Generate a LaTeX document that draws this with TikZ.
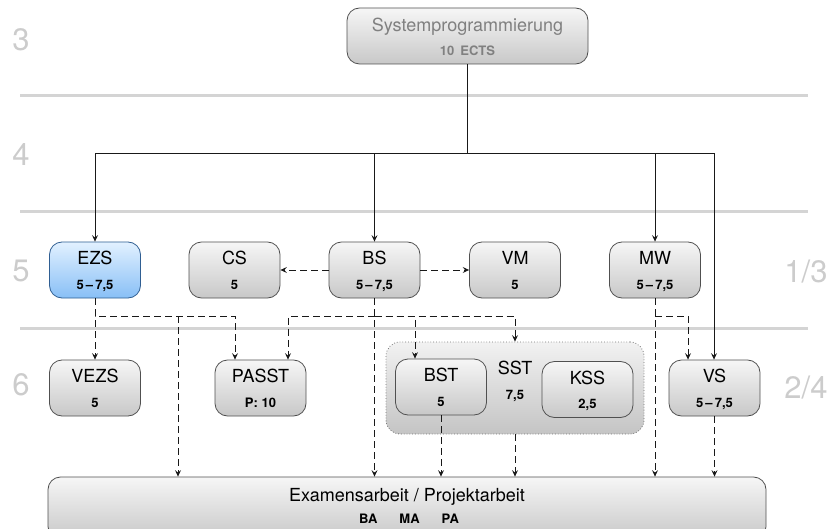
\documentclass[tikz,border=0pt]{standalone}
\usepackage{fontspec}
\setmainfont{TeX Gyre Heros}
\usetikzlibrary{arrows.meta}

\definecolor{boxtop}{HTML}{F6F6F6}
\definecolor{boxbot}{HTML}{C8C8C8}
\definecolor{boxline}{HTML}{505050}
\definecolor{ezstop}{HTML}{E2F1FF}
\definecolor{ezsbot}{HTML}{88BFF6}
\definecolor{ezsline}{HTML}{2F5E92}
\definecolor{grptop}{HTML}{F2F2F2}
\definecolor{grpbot}{HTML}{C4C4C4}

\begin{document}
\begin{tikzpicture}[x=1pt,y=-1pt,
  mod/.style={draw=boxline,line width=0.8pt,rounded corners=12.5pt,top color=boxtop,bottom color=boxbot,
    minimum width=91pt,minimum height=56pt,inner sep=0pt},
  ezsmod/.style={mod,draw=ezsline,top color=ezstop,bottom color=ezsbot},
  grp/.style={draw=black!55,line width=0.8pt,dotted,rounded corners=14pt,top color=grptop,bottom color=grpbot,
    minimum width=258pt,minimum height=92pt,inner sep=0pt},
  title/.style={anchor=base,inner sep=0pt,font=\fontsize{18}{18}\selectfont},
  ects/.style={anchor=base,inner sep=0pt,font=\fontsize{13}{13}\selectfont\bfseries},
  level/.style={text=black!20,font=\fontsize{31}{31}\selectfont},
  sep/.style={line width=3pt,black!17},
  tline/.style={line width=0.8pt,black!90,-{Stealth[length=6.5pt,width=6pt,inset=2.5pt]}},
  dline/.style={tline,dash pattern=on 7pt off 4pt}]
\useasboundingbox (0,0) rectangle (832,529);

% semester lines
\foreach \y in {96,212,328}
\draw[sep] (20,\y) -- (808,\y);
\foreach \y/\t in {40/3,155/4,271/5,385/6}
\node[level] (sem\t) at (21,\y) {\t};
\node[level] (ws) at (806,272) {1/3};
\node[level] (ss) at (806,388) {2/4};

% top module
\node[mod,minimum width=241pt] (sp) at (467.5,36) {};
\node[title,text=black!50] (sptitle) at ([yshift=4.5pt]sp.center) {Systemprogrammierung};
\node[ects,text=black!50] (spects) at ([yshift=-19.5pt]sp.center) {10\hspace{6pt}ECTS};

% SST group
\node[grp] (sst) at (515,388) {};
\node[title] (ssttitle) at ([yshift=13.5pt]sst.center) {SST};
\node[ects] (sstects) at ([yshift=-11.5pt]sst.center) {7,5};

% modules
\node[ezsmod] (ezs) at (95,270) {};
\foreach \n/\x/\y in {cs/234.5/270,bs/374.5/270,vm/515/270,mw/655/270,
  vezs/95/388,passt/260.5/388,bst/441/387,kss/587.5/389.5,vs/714.5/388}
\node[mod] (\n) at (\x,\y) {};
\foreach \n/\t/\e in {ezs/EZS/{5\,--\,7,5},cs/CS/5,bs/BS/{5\,--\,7,5},vm/VM/5,mw/MW/{5\,--\,7,5},
  vezs/VEZS/5,passt/PASST/{P: 10},bst/BST/5,kss/KSS/{2,5},vs/VS/{5\,--\,7,5}}{
\node[title] (\n title) at ([yshift=5.5pt]\n.center) {\t};
\node[ects] (\n ects) at ([yshift=-19pt]\n.center) {\e};
}

% thesis
\node[mod,minimum width=718pt,minimum height=62pt] (exam) at (407,508) {};
\node[title] (examtitle) at (407,501.5) {Examensarbeit / Projektarbeit};
\node[ects] (examects) at (409,523.5) {BA\hspace{22pt}MA\hspace{22pt}PA};

% tree
\coordinate (fork) at (467.5,153);
\draw[tline,-] (sp) -- (fork);
\foreach \n in {ezs,bs,mw}
\draw[tline] (fork) -| (\n);
\draw[tline] (fork) -| ([xshift=-0.5pt]vs.north);

% dashed links
\draw[dline] (bs) -- (cs);
\draw[dline] (bs) -- (vm);

\draw[dline] (ezs) -- (vezs);
\draw[dline] (ezs.south) -- ++(0,18) -| ([xshift=-25.5pt]passt.north);
\coordinate (ezsbar) at (178,316);
\draw[dline] (ezsbar) -- (ezsbar |- exam.north);

\draw[dline] (bs.south) -- (bs.south |- exam.north);
\draw[dline] (bs.south) ++(0,18) -| ([xshift=27.5pt]passt.north);
\draw[dline] (bs.south) ++(0,18) -| ([xshift=-26pt]bst.north);
\draw[dline] (bs.south) ++(0,18) -| (sst.north);

\draw[dline] (mw.south) -- (mw.south |- exam.north);
\draw[dline] (mw.south) ++(0,18) -| ([xshift=-26.5pt]vs.north);

\draw[dline] (bst) -- (bst |- exam.north);
\draw[dline] (sst) -- (sst |- exam.north);
\draw[dline] (vs) -- (vs |- exam.north);
\end{tikzpicture}
\end{document}
